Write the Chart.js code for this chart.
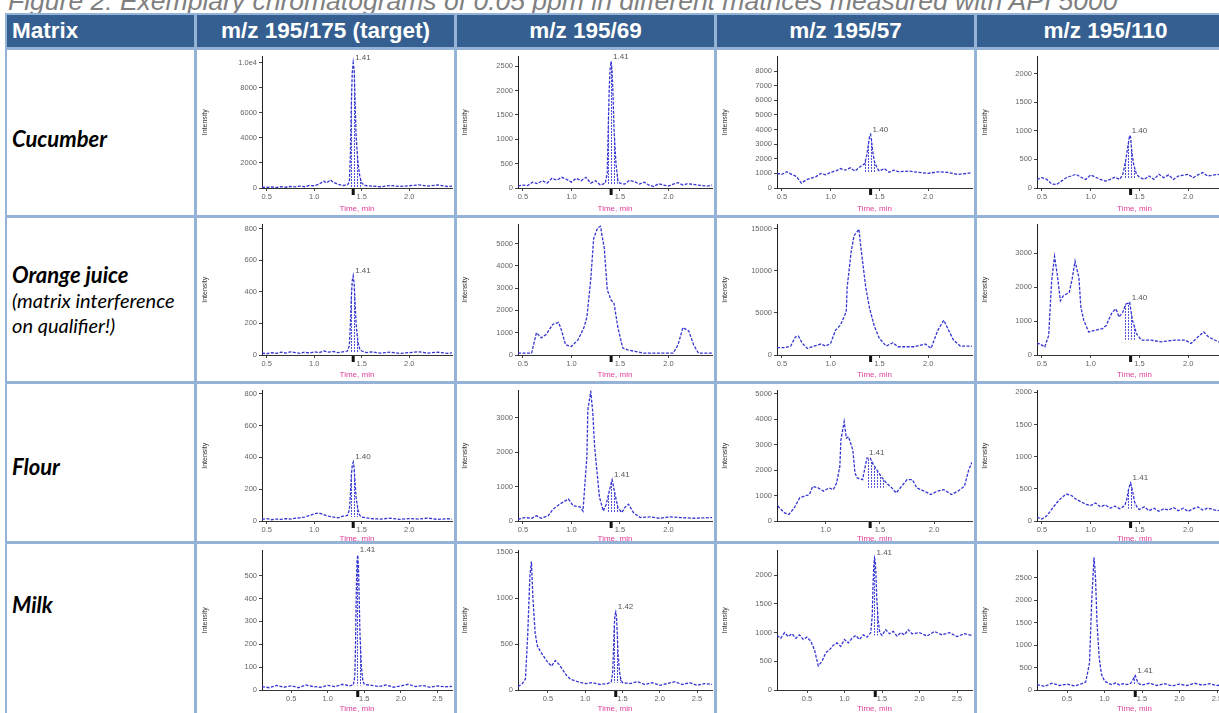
<!DOCTYPE html>
<html>
<head>
<meta charset="utf-8">
<script src="https://cdn.jsdelivr.net/npm/chart.js@4.4.0/dist/chart.umd.min.js"></script>
<style>
html, body { margin: 0; padding: 0; background: #fff; }
body { width: 1219px; height: 713px; overflow: hidden; position: relative; font-family: 'Liberation Sans', Arial, sans-serif; }
#caption { position: absolute; left: 8px; top: -12px; font-size: 26.5px; line-height: 26px; font-style: italic; color: #7f7f7f; white-space: nowrap; }
#grid { position: absolute; left: 5px; top: 13px; width: 1240px; height: 740px; background: #95b3d7; }
.head { position: absolute; background: #365f91; color: #fff; font-weight: bold; font-size: 22.5px; display: flex; align-items: center; justify-content: center; white-space: nowrap; }
.head.first { justify-content: flex-start; padding-left: 5px; box-sizing: border-box; }
.cell { position: absolute; background: #fff; overflow: hidden; }
.label { position: absolute; left: 5px; font-family: Lato, 'Open Sans', sans-serif; color: #000; white-space: nowrap; }
.label b { font-weight: bold; font-style: italic; font-size: 22px; display: block; line-height: 26px; }
.label i { font-size: 20px; display: block; line-height: 25px; }
canvas { position: absolute; left: 0; top: 0; }
</style>
</head>
<body>
<div id="caption">Figure 2: Exemplary chromatograms of 0.05 ppm in different matrices measured with API 5000</div>
<div id="grid"></div>
<script>
// table text
const matrices = ['Cucumber', 'Orange juice', 'Flour', 'Milk'];
const matrixNotes = [[], ['(matrix interference', 'on qualifier!)'], [], []];
const transitions = ['m/z 195/175 (target)', 'm/z 195/69', 'm/z 195/57', 'm/z 195/110'];

// traces: [time (min), intensity (cps)]
const cucumberTarget = [[0.45,60],[0.5,40],[0.55,80],[0.6,50],[0.65,100],[0.7,60],[0.75,120],[0.8,90],[0.85,150],[0.9,100],[0.95,200],[1.0,180],[1.05,300],[1.1,550],[1.13,400],[1.17,650],[1.2,450],[1.25,300],[1.3,200],[1.35,250],[1.37,500],[1.38,2500],[1.39,6500],[1.40,9200],[1.41,10000],[1.42,9400],[1.43,7000],[1.44,4200],[1.46,2000],[1.48,900],[1.5,400],[1.53,200],[1.6,150],[1.7,100],[1.8,200],[1.9,120],[2.0,180],[2.1,250],[2.2,150],[2.3,250],[2.4,120],[2.45,150]];
const cucumberQ69 = [[0.45,40],[0.5,60],[0.55,50],[0.6,120],[0.65,90],[0.7,150],[0.75,100],[0.8,200],[0.85,160],[0.9,220],[0.95,180],[1.0,120],[1.05,200],[1.1,150],[1.15,220],[1.2,100],[1.25,150],[1.3,60],[1.35,100],[1.37,300],[1.38,1200],[1.39,2000],[1.40,2450],[1.41,2600],[1.42,2400],[1.43,1900],[1.44,1200],[1.46,500],[1.48,150],[1.5,100],[1.55,80],[1.6,160],[1.65,130],[1.7,80],[1.75,120],[1.8,60],[1.85,30],[1.9,90],[1.95,60],[2.0,40],[2.05,80],[2.1,110],[2.15,60],[2.2,90],[2.3,60],[2.4,40],[2.45,60]];
const cucumberQ57 = [[0.45,1000],[0.5,930],[0.55,1110],[0.6,930],[0.65,780],[0.7,330],[0.75,560],[0.8,670],[0.85,780],[0.9,1000],[0.95,900],[1.0,1070],[1.05,1150],[1.1,1330],[1.15,1220],[1.2,1380],[1.25,1160],[1.3,1440],[1.35,1670],[1.37,2220],[1.39,3100],[1.40,3560],[1.41,3670],[1.42,3220],[1.43,2560],[1.45,1780],[1.48,1330],[1.5,1160],[1.55,1330],[1.6,1070],[1.65,1220],[1.7,1110],[1.8,1160],[1.9,1070],[2.0,1000],[2.1,1110],[2.2,1070],[2.3,930],[2.4,1000],[2.45,1050]];
const cucumberQ110 = [[0.45,150],[0.5,180],[0.55,150],[0.6,70],[0.65,60],[0.7,120],[0.75,180],[0.8,210],[0.85,240],[0.9,190],[0.95,150],[1.0,230],[1.05,190],[1.1,150],[1.15,120],[1.2,150],[1.25,190],[1.3,150],[1.33,240],[1.36,480],[1.38,710],[1.40,920],[1.41,890],[1.42,680],[1.44,420],[1.47,240],[1.5,190],[1.55,150],[1.6,210],[1.65,150],[1.7,240],[1.75,180],[1.8,230],[1.85,150],[1.9,210],[2.0,240],[2.05,180],[2.1,230],[2.15,270],[2.2,210],[2.3,240],[2.4,210],[2.5,230]];
const orangeTarget = [[0.45,12],[0.5,8],[0.55,15],[0.6,10],[0.65,18],[0.7,12],[0.75,20],[0.8,15],[0.85,10],[0.9,18],[0.95,12],[1.0,20],[1.05,15],[1.1,25],[1.15,18],[1.2,22],[1.25,15],[1.3,20],[1.35,25],[1.37,60],[1.38,190],[1.39,360],[1.40,470],[1.41,500],[1.42,450],[1.43,330],[1.44,200],[1.46,80],[1.48,35],[1.5,25],[1.55,15],[1.6,20],[1.7,12],[1.8,18],[1.9,10],[2.0,15],[2.1,20],[2.2,12],[2.3,18],[2.4,10],[2.45,14]];
const orangeQ69 = [[0.45,80],[0.59,80],[0.64,1000],[0.69,770],[0.74,920],[0.81,1380],[0.87,1460],[0.9,1080],[0.94,460],[1.0,380],[1.07,690],[1.13,1230],[1.16,1690],[1.2,3380],[1.23,5230],[1.27,5690],[1.3,5770],[1.34,4770],[1.37,2920],[1.41,2460],[1.44,2310],[1.48,1230],[1.53,310],[1.58,230],[1.67,150],[1.75,80],[1.86,80],[2.0,80],[2.05,80],[2.1,460],[2.15,1230],[2.21,1080],[2.26,460],[2.31,80],[2.45,80]];
const orangeQ57 = [[0.45,870],[0.53,870],[0.59,1060],[0.64,2170],[0.67,2240],[0.71,1380],[0.76,790],[0.83,1060],[0.9,1300],[0.95,1060],[1.0,1380],[1.05,2950],[1.1,3540],[1.16,5120],[1.17,8070],[1.21,12200],[1.24,14170],[1.28,14760],[1.29,14960],[1.31,12800],[1.36,8070],[1.4,5510],[1.45,3350],[1.5,1970],[1.57,1060],[1.64,1460],[1.69,980],[1.86,980],[1.97,1300],[2.03,790],[2.1,2950],[2.16,4130],[2.21,2950],[2.26,1770],[2.33,1060],[2.45,1060]];
const orangeQ110 = [[0.41,240],[0.47,340],[0.53,240],[0.57,580],[0.6,2180],[0.63,2910],[0.66,2330],[0.69,1600],[0.72,1750],[0.78,1840],[0.81,2230],[0.84,2770],[0.88,2280],[0.9,1410],[0.93,1020],[0.98,680],[1.05,730],[1.12,780],[1.16,870],[1.19,1070],[1.22,1260],[1.26,1360],[1.29,1120],[1.33,1260],[1.36,1500],[1.4,1550],[1.43,1020],[1.47,630],[1.52,440],[1.62,440],[1.72,390],[1.86,440],[1.97,440],[2.03,340],[2.1,530],[2.16,680],[2.21,530],[2.31,390],[2.5,400]];
const flourTarget = [[0.45,10],[0.5,15],[0.55,8],[0.6,12],[0.65,10],[0.7,15],[0.75,12],[0.8,18],[0.85,20],[0.9,25],[0.95,35],[1.0,45],[1.05,50],[1.1,40],[1.15,30],[1.2,25],[1.25,20],[1.3,30],[1.35,35],[1.37,70],[1.38,160],[1.39,280],[1.40,350],[1.41,370],[1.42,330],[1.43,240],[1.44,150],[1.46,70],[1.48,35],[1.5,25],[1.55,20],[1.6,15],[1.7,12],[1.8,18],[1.9,10],[2.0,15],[2.1,12],[2.2,18],[2.3,10],[2.4,14],[2.45,12]];
const flourQ69 = [[0.45,50],[0.52,100],[0.59,80],[0.64,150],[0.69,80],[0.76,150],[0.81,340],[0.88,490],[0.97,640],[1.02,440],[1.09,410],[1.12,290],[1.14,1080],[1.16,1860],[1.17,3240],[1.2,3770],[1.22,3190],[1.24,2160],[1.27,1270],[1.29,690],[1.33,290],[1.36,490],[1.4,980],[1.42,1200],[1.45,780],[1.48,390],[1.52,245],[1.55,390],[1.59,490],[1.64,245],[1.71,100],[1.81,120],[1.91,80],[2.02,120],[2.12,100],[2.26,80],[2.45,100]];
const flourQ57 = [[0.52,910],[0.57,520],[0.62,320],[0.66,260],[0.71,520],[0.76,910],[0.8,970],[0.85,1040],[0.88,1360],[0.93,1300],[0.98,1170],[1.03,1300],[1.07,1230],[1.1,1490],[1.13,2140],[1.14,3180],[1.17,3900],[1.19,3250],[1.21,3310],[1.25,2790],[1.27,1880],[1.29,1690],[1.34,1620],[1.38,2470],[1.41,2470],[1.44,2210],[1.47,2010],[1.51,1750],[1.56,1490],[1.61,1300],[1.65,1100],[1.7,1360],[1.75,1620],[1.8,1620],[1.84,1300],[1.91,1170],[1.97,1040],[2.03,1170],[2.09,1230],[2.16,1040],[2.22,1170],[2.28,1360],[2.32,2010],[2.35,2300]];
const flourQ110 = [[0.45,60],[0.5,30],[0.55,80],[0.6,180],[0.65,280],[0.7,360],[0.75,420],[0.8,400],[0.85,340],[0.9,300],[0.95,260],[1.0,240],[1.05,280],[1.1,220],[1.15,250],[1.2,200],[1.25,230],[1.3,190],[1.35,240],[1.37,330],[1.39,500],[1.41,590],[1.43,470],[1.45,300],[1.48,200],[1.5,180],[1.55,220],[1.6,160],[1.65,200],[1.7,150],[1.75,190],[1.8,170],[1.85,210],[1.9,160],[1.95,200],[2.0,150],[2.05,190],[2.1,220],[2.15,170],[2.2,200],[2.3,160],[2.4,190],[2.45,170]];
const milkTarget = [[0.1,15],[0.2,10],[0.3,20],[0.4,12],[0.5,18],[0.6,10],[0.7,22],[0.8,15],[0.9,12],[1.0,20],[1.1,15],[1.2,25],[1.3,18],[1.35,22],[1.37,60],[1.38,200],[1.39,420],[1.40,560],[1.41,590],[1.42,540],[1.43,400],[1.44,250],[1.46,100],[1.48,40],[1.5,25],[1.6,20],[1.7,15],[1.8,22],[1.9,12],[2.0,18],[2.1,25],[2.2,15],[2.3,20],[2.4,12],[2.5,18],[2.6,14],[2.7,16]];
const milkQ69 = [[0.1,40],[0.15,60],[0.2,120],[0.23,600],[0.26,1250],[0.28,1400],[0.3,1000],[0.33,620],[0.36,480],[0.4,420],[0.45,360],[0.5,300],[0.55,260],[0.6,320],[0.65,280],[0.7,220],[0.75,160],[0.8,120],[0.9,90],[1.0,70],[1.1,80],[1.2,60],[1.3,70],[1.35,90],[1.37,200],[1.38,450],[1.39,700],[1.40,820],[1.41,850],[1.42,800],[1.43,620],[1.44,400],[1.46,200],[1.48,110],[1.5,80],[1.6,70],[1.7,90],[1.8,60],[1.9,80],[2.0,50],[2.1,70],[2.2,90],[2.3,60],[2.4,80],[2.5,50],[2.6,70],[2.7,60]];
const milkQ57 = [[0.1,950],[0.15,900],[0.2,1000],[0.25,930],[0.3,980],[0.35,900],[0.4,960],[0.45,880],[0.5,920],[0.55,850],[0.6,700],[0.65,420],[0.7,500],[0.75,650],[0.8,700],[0.85,780],[0.9,820],[0.95,760],[1.0,880],[1.05,820],[1.1,900],[1.15,950],[1.2,880],[1.25,960],[1.3,920],[1.35,1000],[1.37,1300],[1.38,1800],[1.39,2150],[1.40,2300],[1.41,2250],[1.42,2000],[1.43,1600],[1.45,1200],[1.47,1000],[1.5,950],[1.55,1050],[1.6,980],[1.65,1020],[1.7,940],[1.75,1000],[1.8,960],[1.85,1050],[1.9,980],[2.0,1000],[2.1,940],[2.2,1020],[2.3,960],[2.4,1000],[2.5,930],[2.6,980],[2.7,950]];
const milkQ110 = [[0.1,120],[0.2,80],[0.3,150],[0.4,100],[0.5,130],[0.6,90],[0.7,140],[0.75,180],[0.8,600],[0.83,2000],[0.86,2950],[0.88,2500],[0.9,1500],[0.93,700],[0.96,350],[1.0,200],[1.05,150],[1.1,120],[1.15,160],[1.2,110],[1.25,140],[1.3,120],[1.35,150],[1.38,230],[1.40,300],[1.41,320],[1.42,280],[1.44,180],[1.47,130],[1.5,110],[1.6,150],[1.7,100],[1.8,140],[1.9,90],[2.0,130],[2.1,100],[2.2,150],[2.3,110],[2.4,140],[2.5,100],[2.6,130],[2.7,110]];

// row-major: Cucumber, Orange juice, Flour, Milk x four transitions
const traces = [cucumberTarget, cucumberQ69, cucumberQ57, cucumberQ110,
                orangeTarget, orangeQ69, orangeQ57, orangeQ110,
                flourTarget, flourQ69, flourQ57, flourQ110,
                milkTarget, milkQ69, milkQ57, milkQ110];

// y tick labels (values parsed from them) and axis tops
const yTickLabels = [
  ['0','2000','4000','6000','8000','1.0e4'], ['0','500','1000','1500','2000','2500'],
  ['0','1000','2000','3000','4000','5000','6000','7000','8000'], ['0','500','1000','1500','2000'],
  ['0','200','400','600','800'], ['0','1000','2000','3000','4000','5000'],
  ['0','5000','10000','15000'], ['0','1000','2000','3000'],
  ['0','200','400','600','800'], ['0','1000','2000','3000'],
  ['0','1000','2000','3000','4000','5000'], ['0','500','1000','1500','2000'],
  ['0','100','200','300','400','500'], ['0','500','1000','1500'],
  ['0','500','1000','1500','2000'], ['0','500','1000','1500','2000','2500']
];
const yMaxes = [10500, 2700, 9000, 2300, 825, 5850, 15500, 3850, 820, 3800, 5120, 2030, 610, 1520, 2430, 3100];

// time axes
const timeRangeStd = [0.45, 2.45];
const timeRangeFlour57 = [0.55, 2.35];
const timeRangeMilk = [0.1, 2.7];
const xTicksStd = [0.5, 1.0, 1.5, 2.0];
const xTicksFlour57 = [1.0, 1.5, 2.0];
const xTicksMilk = [0.5, 1.0, 1.5, 2.0, 2.5];

// integrated peak: [start, end, baseline] and apex labels
const peakWindows = [[1.36,1.52,60],[1.36,1.48,80],[1.35,1.48,1100],[1.33,1.48,170],
                     [1.36,1.48,15],null,null,[1.33,1.48,450],
                     [1.36,1.48,25],[1.36,1.52,250],[1.36,1.60,1300],[1.36,1.46,190],
                     [1.36,1.48,20],[1.36,1.48,80],[1.36,1.46,950],[1.37,1.45,120]];
const peakLabels = ['1.41','1.41','1.40','1.40','1.41',null,null,'1.40',
                    '1.40','1.41','1.41','1.41','1.41','1.42','1.41','1.41'];
const expectedRT = 1.41;

// layout of the table
const colEdges = [5, 195, 455, 715, 975, 1235];
const rowEdges = [13, 48, 216, 382, 542, 760];
const axisLeft = [65, 61, 60, 60];
const plotH = [132, 131, 131, 140];
const xAxisH = [27, 26, 24, 25];
const labelCenters = [139, 300, 467, 605];

Chart.defaults.font.family = "'Liberation Sans', Arial, sans-serif";

const body = document.body;
function box(cls, x0, y0, x1, y1) {
  const d = document.createElement('div');
  d.className = cls;
  d.style.left = (x0 + 2) + 'px';
  d.style.top = (y0 + 2) + 'px';
  d.style.width = (x1 - x0 - 3) + 'px';
  d.style.height = (y1 - y0 - 3) + 'px';
  body.appendChild(d);
  return d;
}

// header
['Matrix'].concat(transitions).forEach((t, c) => {
  const h = box('head' + (c === 0 ? ' first' : ''), colEdges[c], rowEdges[0], colEdges[c + 1], rowEdges[1]);
  h.textContent = t;
});

// matrix labels
matrices.forEach((m, r) => {
  box('cell', colEdges[0], rowEdges[r + 1], colEdges[1], rowEdges[r + 2]);
  const l = document.createElement('div');
  l.className = 'label';
  l.innerHTML = '<b>' + m + '</b>' + matrixNotes[r].map(n => '<i>' + n + '</i>').join('');
  body.appendChild(l);
  l.style.left = (colEdges[0] + 7) + 'px';
  l.style.top = (labelCenters[r] - l.offsetHeight / 2) + 'px';
});

function hatchPattern(ctx) {
  const c = document.createElement('canvas');
  c.width = 3; c.height = 3;
  const g = c.getContext('2d');
  g.fillStyle = 'rgba(50,50,210,0.85)';
  g.fillRect(1, 0, 1, 2);
  return ctx.createPattern(c, 'repeat');
}

function drawChromatogram(r, c) {
  const i = r * 4 + c;
  const cell = box('cell', colEdges[c + 1], rowEdges[r + 1], colEdges[c + 2], rowEdges[r + 2]);
  const w = colEdges[c + 2] - colEdges[c + 1] - 3;
  const h = 6 + plotH[r] + xAxisH[r];
  const cv = document.createElement('canvas');
  cv.width = w; cv.height = h;
  cv.style.width = w + 'px'; cv.style.height = h + 'px';
  cell.appendChild(cv);
  const ctx = cv.getContext('2d');

  const trace = traces[i].map(p => ({ x: p[0], y: p[1] }));
  const win = peakWindows[i];
  const range = r === 3 ? timeRangeMilk : (i === 10 ? timeRangeFlour57 : timeRangeStd);
  const xTicks = r === 3 ? xTicksMilk : (i === 10 ? xTicksFlour57 : xTicksStd);
  const yLabels = yTickLabels[i];

  const datasets = [{
    data: trace,
    borderColor: '#3434d2',
    borderWidth: 1.3,
    borderDash: [3, 1.5],
    pointRadius: 0,
    tension: 0,
    fill: false
  }];
  if (win) {
    datasets.unshift({
      data: trace.filter(p => p.x >= win[0] && p.x <= win[1]),
      borderWidth: 0,
      pointRadius: 0,
      backgroundColor: hatchPattern(ctx),
      fill: { value: win[2] }
    });
  }

  const marks = {
    id: 'marks',
    afterDatasetsDraw(chart) {
      const { ctx, chartArea, scales } = chart;
      const px = scales.x.getPixelForValue(expectedRT);
      ctx.save();
      ctx.fillStyle = '#111';
      ctx.fillRect(px - 1.5, chartArea.bottom + 1, 3, 6);
      if (peakLabels[i] && win) {
        let apex = null;
        trace.forEach(p => { if (p.x >= win[0] && p.x <= win[1] && (!apex || p.y > apex.y)) apex = p; });
        ctx.font = "8px 'Liberation Sans', Arial, sans-serif";
        ctx.fillStyle = '#555';
        ctx.textBaseline = 'bottom';
        ctx.fillText(peakLabels[i], scales.x.getPixelForValue(apex.x) + 2, Math.max(scales.y.getPixelForValue(apex.y) - 1, 9));
      }
      ctx.restore();
    }
  };

  new Chart(cv, {
    type: 'line',
    data: { datasets },
    options: {
      responsive: false,
      animation: false,
      parsing: false,
      layout: { padding: { top: 6, right: 2, left: 0, bottom: 0 } },
      plugins: { legend: { display: false }, tooltip: { enabled: false } },
      scales: {
        x: {
          type: 'linear',
          min: range[0],
          max: range[1],
          afterBuildTicks: s => { s.ticks = xTicks.map(v => ({ value: v })); },
          afterFit: s => { s.height = xAxisH[r]; },
          ticks: { font: { size: 7.5 }, color: '#666', padding: 1, maxRotation: 0, callback: v => Number(v).toFixed(1) },
          grid: { drawOnChartArea: false, drawTicks: true, tickLength: 3, color: '#444' },
          border: { color: '#333', width: 1 },
          title: { display: true, text: 'Time, min', color: '#e0409a', font: { size: 8 }, padding: { top: 0, bottom: 1 } }
        },
        y: {
          type: 'linear',
          min: 0,
          max: yMaxes[i],
          afterBuildTicks: s => { s.ticks = yLabels.map(t => ({ value: Number(t) })); },
          afterFit: s => { s.width = axisLeft[c]; },
          ticks: { font: { size: 7.5 }, color: '#666', padding: 2, callback: (v, k) => yLabels[k] },
          grid: { drawOnChartArea: false, drawTicks: true, tickLength: 3, color: '#444' },
          border: { color: '#222', width: 1 },
          title: { display: true, text: 'Intensity', color: '#333', font: { size: 7 }, padding: { top: 4, bottom: 0 } }
        }
      }
    },
    plugins: [marks]
  });
}

for (let r = 0; r < 4; r++) {
  for (let c = 0; c < 4; c++) drawChromatogram(r, c);
}
</script>
</body>
</html>
